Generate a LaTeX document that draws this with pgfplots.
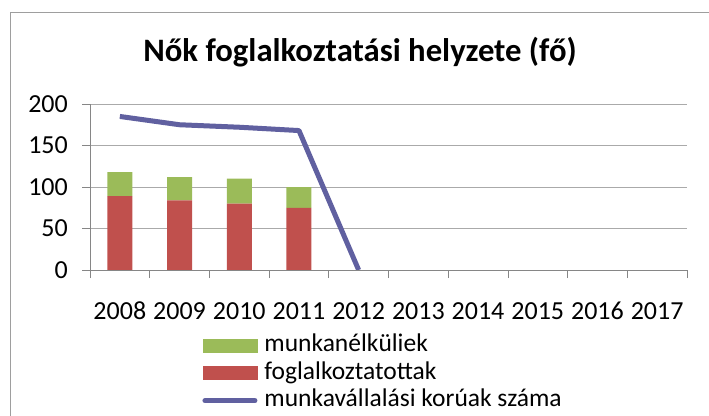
\documentclass[border=0pt]{standalone}
\usepackage{pgfplots}
\pgfplotsset{compat=1.18}
\usepackage{fontspec}
\setmainfont{Carlito}
\definecolor{cgreen}{HTML}{9BBB59}
\definecolor{cred}{HTML}{C0504D}
\definecolor{cline}{RGB}{96,96,160}
\definecolor{cgrid}{RGB}{134,134,134}
\begin{document}
\begin{tikzpicture}
\path[use as bounding box] (0,0) rectangle (709bp,416bp);
\draw[cgrid!80, line width=0.8bp] (10bp,-5bp) -- (10bp,404bp) -- (720bp,404bp);
\node[font=\fontsize{32.7bp}{36bp}\selectfont\bfseries, inner sep=0pt, anchor=base] at (360bp,416bp-62bp) {Nők foglalkoztatási helyzete (fő)};
\pgfplotsset{
  base/.style={
    scale only axis, width=597bp, height=166bp,
    at={(90bp,146bp)}, anchor=south west,
    xmin=-0.5, xmax=9.5, ymin=0, ymax=200,
  }
}
\begin{axis}[base,
  axis x line*=bottom, axis y line*=left,
  axis line style={cgrid, line width=0.8bp},
  ytick={0,50,100,150,200},
  ymajorgrids, major grid style={cgrid!70, line width=0.8bp},
  xtick={0,...,9},
  xticklabels={2008,2009,2010,2011,2012,2013,2014,2015,2016,2017},
  minor xtick={-0.5,0.5,...,9.5},
  x tick style={draw=none},
  minor x tick style={draw=cgrid, line width=0.8bp},
  y tick style={draw=cgrid, line width=0.8bp},
  tick align=outside, major tick length=8bp, minor tick length=8bp,
  /pgf/number format/assume math mode=true,
  ticklabel style={font=\fontsize{26bp}{30bp}\selectfont},
  xticklabel style={anchor=base, text height=18bp, text depth=0bp, inner sep=0pt, yshift=-41bp},
  yticklabel style={anchor=east, inner sep=0pt, xshift=-14bp},
  ybar stacked, bar width=25bp,
  legend style={at={(0.188,-0.378)}, anchor=north west, draw=none, fill=none,
    font=\fontsize{25.5bp}{27bp}\selectfont, row sep=2bp, inner sep=0pt,
    nodes={inner sep=0pt, text height=19bp, text depth=6.5bp}, cells={anchor=west}},
]
\addplot[fill=cred, draw=none, forget plot] coordinates {(0,89) (1,84) (2,80) (3,75)};
\addplot[fill=cgreen, draw=none, forget plot] coordinates {(0,29) (1,28) (2,30) (3,25)};
\addlegendimage{legend image code/.code={\fill[cgreen] (0bp,-6.5bp) rectangle (54bp,6.5bp);}}
\addlegendentry{\hspace{7bp}munkanélküliek}
\addlegendimage{legend image code/.code={\fill[cred] (0bp,-6.5bp) rectangle (54bp,6.5bp);}}
\addlegendentry{\hspace{7bp}foglalkoztatottak}
\addlegendimage{legend image code/.code={\draw[cline, line width=5bp, line cap=round] (2bp,0bp) -- (52bp,0bp);}}
\addlegendentry{\hspace{7bp}munkavállalási korúak száma}
\end{axis}
\begin{axis}[base, axis lines=none, ticks=none]
\addplot[cline, line width=5bp, mark=none, line join=round] coordinates {(0,185) (1,175) (2,172) (3,168) (4,0)};
\end{axis}
\end{tikzpicture}
\end{document}
